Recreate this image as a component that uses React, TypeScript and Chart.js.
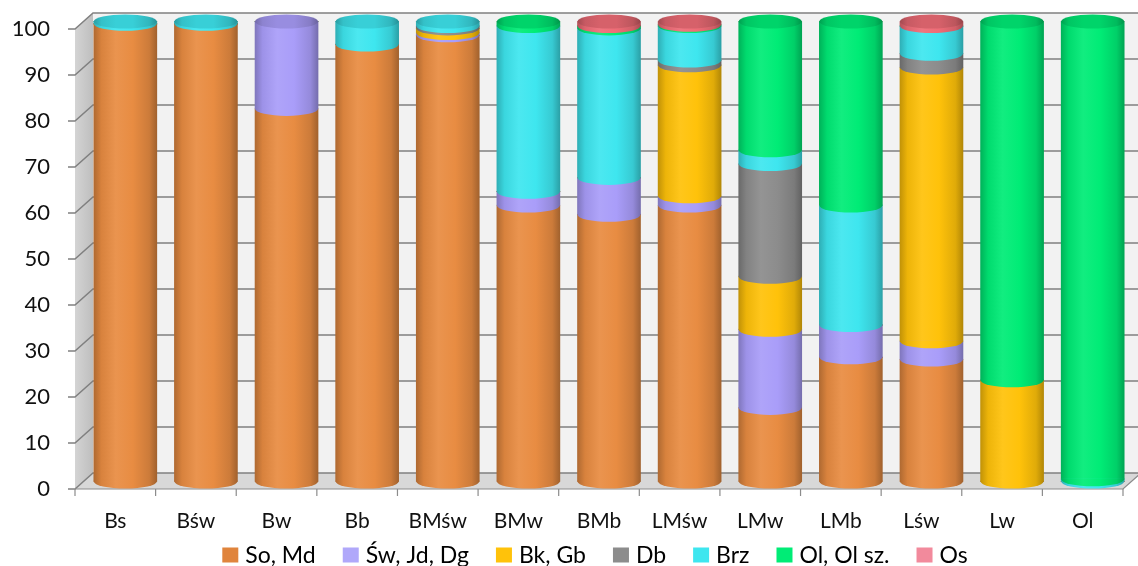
import React, { useEffect, useRef } from 'react';
import { Chart, registerables } from 'chart.js';

Chart.register(...registerables);

// Forest site types and the share (%) of each species group
const categories = ['Bs', 'Bśw', 'Bw', 'Bb', 'BMśw', 'BMw', 'BMb', 'LMśw', 'LMw', 'LMb', 'Lśw', 'Lw', 'Ol'];

const soMd = [99.5, 99.5, 81, 95, 97, 60, 58, 60, 16, 27, 26.5, 0, 0];
const swJdDg = [0, 0, 19, 0, 0.5, 3, 8, 2, 17, 7, 4, 0, 0];
const bkGb = [0, 0, 0, 0, 1, 0, 0, 28.5, 11.5, 0, 59.5, 22, 0];
const db = [0, 0, 0, 0, 0.5, 0, 0, 1, 24.5, 0, 3, 0, 0];
const brz = [0.5, 0.5, 0, 5, 1, 36, 32.5, 7.5, 3, 26, 6, 0, 0.5];
const olOlSz = [0, 0, 0, 0, 0, 1, 0.5, 0.3, 28, 40, 0, 78, 99.5];
const os = [0, 0, 0, 0, 0, 0, 1, 0.7, 0, 0, 1, 0, 0];

const seriesNames = ['So, Md', 'Św, Jd, Dg', 'Bk, Gb', 'Db', 'Brz', 'Ol, Ol sz.', 'Os'];
const seriesValues = [soMd, swJdDg, bkGb, db, brz, olOlSz, os];
const seriesColors = ['#E88C42', '#A99DF9', '#FFC20A', '#8C8C8C', '#3EE6EF', '#00EC76', '#EE6C76'];
const legendColors = ['#E0843C', '#B0A8FA', '#FFC20A', '#8C8C8C', '#3EE6EF', '#00EC76', '#F28A9C'];

const yTickValues = [0, 10, 20, 30, 40, 50, 60, 70, 80, 90, 100];

// 3D look: depth offset of the back wall, shift of the cylinders, ellipse radius
const DX = 18;
const DY = -16;
const BAR_DX = 10;
const BAR_DY = -7.5;
const RY = 7;
const BAR_W = 63;
const FONT = 'Lato, "Open Sans", sans-serif';

function shade(hex: string, f: number): string {
  const n = parseInt(hex.slice(1), 16);
  let r = (n >> 16) & 255;
  let g = (n >> 8) & 255;
  let b = n & 255;
  if (f <= 1) {
    r *= f; g *= f; b *= f;
  } else {
    const t = f - 1;
    r += (255 - r) * t; g += (255 - g) * t; b += (255 - b) * t;
  }
  return `rgb(${Math.round(r)},${Math.round(g)},${Math.round(b)})`;
}

function cylGrad(ctx: CanvasRenderingContext2D, x: number, w: number, color: string, k = 1) {
  const g = ctx.createLinearGradient(x - w / 2, 0, x + w / 2, 0);
  g.addColorStop(0, shade(color, 0.76 * k));
  g.addColorStop(0.12, shade(color, 0.93 * k));
  g.addColorStop(0.35, k === 1 ? shade(color, 1.07) : shade(color, k));
  g.addColorStop(0.62, shade(color, k));
  g.addColorStop(0.88, shade(color, 0.88 * k));
  g.addColorStop(1, shade(color, 0.7 * k));
  return g;
}

const scenePlugin = {
  id: 'scene3d',
  beforeDatasetsDraw(chart: any) {
    const { ctx, chartArea: a, scales } = chart;
    const y = scales.y;
    const y0 = y.getPixelForValue(0);
    const y100 = y.getPixelForValue(100);
    const L = a.left;
    const R = a.right;
    const W = chart.width;
    ctx.save();

    // back wall
    ctx.fillStyle = '#F2F2F2';
    ctx.fillRect(L + DX, y100 + DY, W - (L + DX), y0 - y100);

    // side wall
    const sg = ctx.createLinearGradient(L, 0, L + DX, 0);
    sg.addColorStop(0, '#D4D4D4');
    sg.addColorStop(1, '#BEBEBE');
    ctx.fillStyle = sg;
    ctx.beginPath();
    ctx.moveTo(L, y100);
    ctx.lineTo(L + DX, y100 + DY);
    ctx.lineTo(L + DX, y0 + DY);
    ctx.lineTo(L, y0);
    ctx.closePath();
    ctx.fill();

    // floor
    ctx.fillStyle = '#D8D8D8';
    ctx.beginPath();
    ctx.moveTo(L, y0);
    ctx.lineTo(R, y0);
    ctx.lineTo(R + DX, y0 + DY);
    ctx.lineTo(L + DX, y0 + DY);
    ctx.closePath();
    ctx.fill();

    // gridlines: tick, side wall diagonal, back wall
    ctx.strokeStyle = '#808080';
    ctx.lineWidth = 1.5;
    for (const v of yTickValues) {
      const py = y.getPixelForValue(v);
      ctx.beginPath();
      ctx.moveTo(L - 7, py);
      ctx.lineTo(L, py);
      ctx.lineTo(L + DX, py + DY);
      ctx.lineTo(W, py + DY);
      ctx.stroke();
    }

    // front edge of the floor and category ticks
    ctx.strokeStyle = '#8C8C8C';
    ctx.lineWidth = 1.2;
    ctx.beginPath();
    ctx.moveTo(L, y0);
    ctx.lineTo(R, y0);
    ctx.lineTo(R + DX, y0 + DY);
    ctx.stroke();
    const n = categories.length;
    const step = (R - L) / n;
    ctx.beginPath();
    for (let i = 0; i <= n; i++) {
      const px = L + i * step;
      ctx.moveTo(px, y0);
      ctx.lineTo(px, y0 + 7);
    }
    ctx.stroke();
    ctx.restore();

    // cylinders stand halfway into the depth
    ctx.save();
    ctx.translate(BAR_DX, BAR_DY);
  },
  afterDatasetsDraw(chart: any) {
    const { ctx } = chart;
    const n = categories.length;
    for (let i = 0; i < n; i++) {
      const segs: { x: number; y: number; base: number; width: number; color: string }[] = [];
      chart.data.datasets.forEach((ds: any, di: number) => {
        if (!ds.data[i]) return;
        const el = chart.getDatasetMeta(di).data[i];
        const p = el.getProps(['x', 'y', 'base', 'width'], true);
        segs.push({ ...p, color: seriesColors[di] });
      });
      if (!segs.length) continue;
      // curved lower edge of every segment (overlapping the straight edge by 1px)
      for (const s of segs) {
        const hw = s.width / 2;
        ctx.beginPath();
        ctx.ellipse(s.x, s.base, hw, RY, 0, 0, Math.PI);
        ctx.lineTo(s.x - hw, s.base - 1);
        ctx.lineTo(s.x + hw, s.base - 1);
        ctx.closePath();
        ctx.fillStyle = cylGrad(ctx, s.x, s.width, s.color);
        ctx.fill();
      }
      // top cap
      const t = segs[segs.length - 1];
      ctx.beginPath();
      ctx.ellipse(t.x, t.y, t.width / 2, RY, 0, 0, Math.PI * 2);
      ctx.fillStyle = cylGrad(ctx, t.x, t.width, t.color, 0.9);
      ctx.fill();
    }
    ctx.restore();
  },
  afterDraw(chart: any) {
    const { ctx } = chart;
    ctx.save();
    ctx.font = `23px ${FONT}`;
    const boxW = 16;
    const boxH = 15;
    const gap = 7;
    const spacing = 27;
    const widths = seriesNames.map((s) => ctx.measureText(s).width);
    const total = widths.reduce((acc, w) => acc + boxW + gap + w, 0) + spacing * (seriesNames.length - 1);
    let px = 595 - total / 2;
    const cy = 555;
    ctx.textBaseline = 'alphabetic';
    seriesNames.forEach((name, i) => {
      ctx.fillStyle = legendColors[i];
      ctx.fillRect(px, cy - boxH / 2, boxW, boxH);
      px += boxW + gap;
      ctx.fillStyle = '#000';
      ctx.fillText(name, px, 563);
      px += widths[i] + spacing;
    });
    ctx.restore();
  },
};

export default function App() {
  const ref = useRef<HTMLCanvasElement | null>(null);

  useEffect(() => {
    document.body.style.margin = '0';
    const canvas = ref.current;
    if (!canvas) return;

    const datasets = seriesNames.map((name, di) => ({
      label: name,
      data: seriesValues[di],
      backgroundColor: (c: any) => {
        const color = seriesColors[di];
        const xs = c.chart.scales?.x;
        if (!xs || c.dataIndex == null) return color;
        const px = xs.getPixelForValue(c.dataIndex);
        if (!Number.isFinite(px)) return color;
        return cylGrad(c.chart.ctx, px, BAR_W, color);
      },
      borderWidth: 0,
      barThickness: BAR_W,
      clip: false as const,
    }));

    const chart = new Chart(canvas, {
      type: 'bar',
      data: { labels: categories, datasets },
      options: {
        animation: false,
        responsive: false,
        devicePixelRatio: 1,
        layout: { padding: { top: 29, right: 15, left: 0, bottom: 0 } },
        plugins: {
          legend: { display: false },
          tooltip: { enabled: false },
        },
        scales: {
          x: {
            stacked: true,
            grid: { display: false, drawTicks: false },
            border: { display: false },
            ticks: { font: { family: FONT, size: 21 }, color: '#111', padding: 20 },
            afterFit: (s: any) => { s.height = 77; },
          },
          y: {
            stacked: true,
            min: 0,
            max: 100,
            grid: { display: false, drawTicks: false },
            border: { display: false },
            ticks: { stepSize: 10, font: { family: FONT, size: 22 }, color: '#111', padding: 25 },
            afterFit: (s: any) => {
              s.width = 75;
              s.paddingTop = 0;
              s.paddingBottom = 0;
            },
          },
        },
      },
      plugins: [scenePlugin],
    });

    return () => chart.destroy();
  }, []);

  return (
    <div style={{ width: 1138, height: 566 }}>
      <canvas ref={ref} width={1138} height={566} />
    </div>
  );
}
